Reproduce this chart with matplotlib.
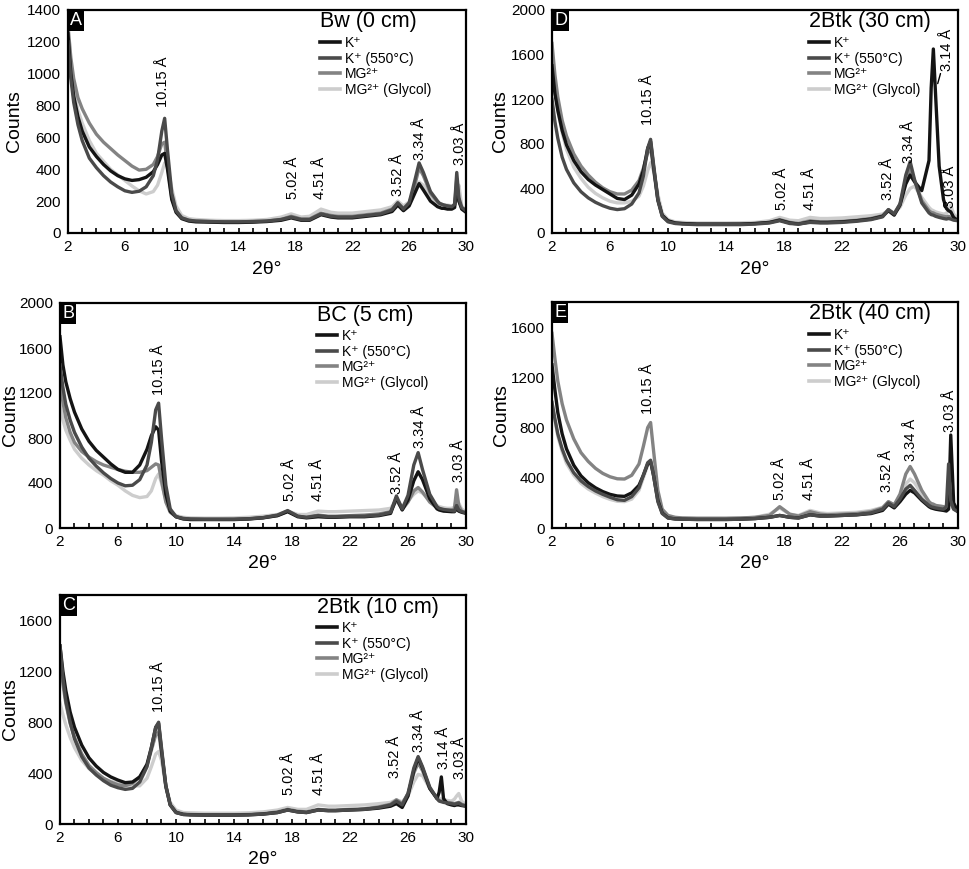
import matplotlib
matplotlib.use('Agg')
import matplotlib.pyplot as plt
from matplotlib.ticker import MultipleLocator
from matplotlib.lines import Line2D

plt.rcParams['font.family'] = ['Liberation Sans', 'DejaVu Sans']

# ---------------- data ----------------
two_theta = [2.0, 2.2, 2.4, 2.7, 3.0, 3.5, 4.0, 4.5, 5.0, 5.5,
             6.0, 6.5, 7.0, 7.5, 8.0, 8.3, 8.6, 8.8, 9.0, 9.3,
             9.6, 10.0, 10.5, 11.0, 12.0, 13.0, 14.0, 15.0, 16.0, 17.0,
             17.7, 18.4, 19.0, 19.8, 20.5, 21.0, 22.0, 23.0, 24.0, 24.8,
             25.2, 25.6, 26.0, 26.4, 26.7, 27.0, 27.5, 28.0, 28.15, 28.3,
             28.45, 28.7, 29.0, 29.2, 29.35, 29.5, 29.7, 30.0]

series_labels = ['K⁺', 'K⁺ (550°C)', 'MG²⁺', 'MG²⁺ (Glycol)']

# Panel A  Bw (0 cm)
A_K = [1250, 1000, 860, 730, 640, 540, 480, 430, 390, 360,
       340, 330, 335, 350, 385, 430, 490, 500, 400, 210,
       130, 90, 75, 70, 68, 66, 66, 68, 72, 80,
       95, 80, 80, 115, 100, 95, 95, 105, 115, 135,
       175, 140, 170, 250, 310, 270, 200, 165, 160, 155,
       155, 150, 150, 160, 300, 200, 150, 130]
A_K550 = [1200, 970, 820, 680, 580, 470, 410, 360, 320, 290,
          265, 255, 262, 290, 360, 460, 640, 720, 520, 250,
          140, 95, 80, 75, 72, 70, 70, 72, 75, 85,
          100, 85, 85, 120, 105, 100, 100, 110, 120, 145,
          190, 150, 190, 330, 440, 380, 260, 200, 185, 180,
          175, 170, 165, 180, 380, 220, 160, 140]
A_MG = [1300, 1100, 970, 850, 780, 690, 620, 570, 530, 490,
        455, 420, 395, 400, 430, 480, 560, 570, 430, 220,
        140, 95, 80, 75, 72, 70, 70, 72, 75, 85,
        105, 88, 88, 125, 110, 105, 105, 115, 125, 150,
        185, 155, 185, 300, 410, 360, 250, 195, 185, 180,
        175, 170, 165, 175, 340, 200, 160, 140]
A_GLY = [1200, 1000, 890, 770, 690, 580, 500, 450, 400, 365,
         330, 295, 265, 245, 260, 300, 380, 440, 420, 280,
         170, 110, 90, 85, 80, 78, 78, 80, 85, 100,
         120, 100, 105, 150, 130, 125, 125, 135, 145, 165,
         200, 170, 195, 260, 320, 300, 230, 190, 185, 180,
         175, 175, 170, 180, 250, 300, 170, 140]

# Panel D  2Btk (30 cm)
D_K = [1500, 1250, 1100, 920, 790, 650, 550, 480, 430, 390,
       350, 310, 300, 340, 440, 560, 760, 820, 600, 300,
       160, 110, 90, 85, 80, 80, 80, 80, 85, 95,
       115, 90, 80, 100, 95, 95, 100, 110, 125, 150,
       200, 160, 250, 440, 520, 460, 380, 650, 1300, 1650,
       1250, 600, 300, 220, 200, 190, 140, 110]
D_K550 = [1200, 1000, 850, 680, 570, 450, 370, 315, 275, 245,
          222, 210, 218, 260, 360, 510, 760, 840, 620, 300,
          150, 100, 85, 80, 75, 75, 75, 75, 80, 90,
          110, 85, 80, 95, 90, 90, 95, 105, 120, 145,
          210, 170, 260, 520, 640, 480, 270, 180, 165, 160,
          150, 140, 130, 125, 130, 125, 115, 110]
D_MG = [1700, 1420, 1220, 1010, 870, 710, 600, 520, 455, 405,
        370, 350, 350, 385, 470, 580, 720, 760, 580, 290,
        150, 105, 90, 85, 80, 80, 80, 80, 85, 95,
        120, 95, 85, 110, 100, 100, 105, 115, 130, 155,
        210, 175, 260, 470, 580, 470, 290, 200, 185, 180,
        170, 160, 150, 145, 150, 140, 125, 115]
D_GLY = [1550, 1300, 1100, 900, 750, 590, 490, 410, 355, 315,
         285, 270, 270, 285, 330, 420, 560, 630, 560, 350,
         180, 120, 100, 95, 90, 90, 90, 92, 95, 110,
         140, 115, 110, 140, 130, 130, 135, 145, 155, 170,
         200, 180, 230, 340, 400, 420, 320, 230, 210, 200,
         190, 180, 170, 175, 210, 250, 170, 130]

# Panel B  BC (5 cm)
B_K = [1700, 1450, 1300, 1150, 1030, 880, 770, 690, 630, 570,
       520, 495, 495, 560, 700, 820, 900, 870, 600, 300,
       150, 100, 80, 75, 75, 75, 75, 80, 90, 110,
       145, 100, 90, 100, 95, 95, 100, 100, 110, 130,
       270, 160, 250, 420, 500, 430, 260, 170, 160, 155,
       150, 148, 145, 145, 170, 150, 140, 130]
B_K550 = [1450, 1250, 1100, 960, 850, 720, 620, 550, 490, 440,
          400, 375, 380, 430, 560, 760, 1050, 1110, 800, 380,
          170, 100, 85, 80, 78, 78, 78, 82, 92, 115,
          155, 105, 95, 110, 100, 100, 105, 105, 115, 140,
          285, 170, 290, 560, 670, 520, 300, 190, 175, 170,
          165, 160, 155, 150, 200, 160, 145, 135]
B_MG = [1300, 1120, 980, 850, 760, 680, 630, 590, 560, 540,
        520, 505, 495, 495, 510, 540, 570, 560, 420, 230,
        140, 100, 85, 80, 78, 78, 78, 82, 92, 110,
        150, 105, 95, 115, 105, 105, 110, 115, 125, 145,
        250, 165, 230, 330, 360, 320, 230, 180, 170, 165,
        160, 160, 160, 170, 340, 200, 150, 135]
B_GLY = [1100, 960, 870, 780, 700, 620, 560, 510, 470, 420,
         380, 330, 290, 270, 280, 330, 440, 480, 400, 250,
         160, 110, 95, 90, 88, 88, 90, 95, 105, 120,
         150, 120, 120, 150, 145, 145, 150, 155, 160, 175,
         250, 190, 240, 300, 330, 310, 250, 200, 190, 185,
         180, 175, 175, 185, 260, 220, 170, 140]

# Panel E  2Btk (40 cm)
E_K = [1300, 1100, 920, 750, 630, 500, 415, 360, 320, 290,
       268, 255, 252, 280, 340, 420, 510, 530, 420, 220,
       120, 80, 72, 70, 68, 68, 68, 70, 75, 85,
       100, 85, 80, 105, 95, 95, 100, 105, 115, 140,
       190, 160, 210, 270, 300, 280, 220, 170, 160, 155,
       150, 145, 140, 135, 150, 740, 200, 130]
E_K550 = [1000, 870, 750, 630, 540, 440, 375, 330, 295, 268,
          245, 225, 220, 250, 320, 420, 520, 540, 420, 210,
          115, 80, 72, 70, 68, 68, 68, 70, 75, 85,
          100, 85, 80, 105, 95, 95, 100, 105, 120, 150,
          200, 170, 230, 310, 340, 300, 230, 180, 170, 165,
          160, 155, 150, 170, 510, 220, 150, 130]
E_MG = [1550, 1350, 1170, 990, 860, 710, 600, 530, 475, 435,
        408, 392, 390, 420, 510, 650, 800, 840, 620, 300,
        150, 100, 85, 80, 78, 78, 78, 80, 85, 100,
        170, 110, 95, 130, 110, 105, 110, 115, 130, 160,
        210, 185, 270, 430, 490, 430, 300, 210, 195, 190,
        180, 175, 170, 165, 180, 200, 150, 130]
E_GLY = [1000, 860, 730, 610, 515, 420, 355, 310, 278, 250,
         228, 213, 210, 230, 300, 400, 500, 520, 440, 240,
         130, 90, 80, 78, 75, 75, 75, 78, 85, 110,
         160, 110, 100, 140, 120, 115, 120, 125, 140, 165,
         210, 180, 250, 350, 390, 360, 270, 200, 190, 185,
         180, 175, 170, 175, 200, 300, 170, 130]

# Panel C  2Btk (10 cm)
C_K = [1400, 1200, 1050, 880, 760, 620, 520, 455, 405, 370,
       345, 325, 330, 370, 470, 600, 760, 790, 580, 300,
       150, 90, 75, 72, 70, 70, 70, 72, 78, 90,
       110, 95, 90, 110, 105, 105, 110, 115, 125, 140,
       160, 130, 220, 420, 520, 440, 280, 200, 250, 370,
       200, 160, 150, 145, 150, 150, 145, 140]
C_K550 = [1400, 1150, 970, 800, 670, 530, 440, 385, 340, 305,
          285, 272, 280, 330, 450, 600, 760, 800, 600, 300,
          150, 90, 75, 72, 70, 70, 70, 72, 78, 90,
          110, 95, 90, 110, 105, 105, 110, 115, 130, 150,
          180, 150, 240, 440, 530, 450, 290, 200, 180, 175,
          170, 165, 160, 155, 160, 165, 150, 140]
C_MG = [1350, 1100, 950, 790, 680, 550, 460, 405, 360, 330,
        308, 300, 320, 370, 460, 580, 700, 720, 560, 290,
        150, 95, 78, 75, 72, 72, 72, 75, 80, 95,
        115, 100, 95, 115, 110, 110, 115, 120, 135, 155,
        190, 160, 240, 400, 480, 420, 280, 200, 185, 180,
        175, 170, 165, 160, 165, 170, 155, 145]
C_GLY = [950, 860, 780, 680, 600, 500, 435, 390, 355, 335,
         322, 310, 300, 300, 360, 450, 550, 570, 500, 300,
         170, 110, 90, 88, 85, 85, 85, 88, 95, 110,
         130, 115, 115, 150, 140, 140, 145, 150, 160, 170,
         190, 175, 220, 330, 390, 380, 280, 210, 200, 195,
         190, 185, 180, 195, 220, 240, 180, 150]

# peak annotations: (label, 2theta, counts at text base)
A_peaks = [('10.15 Å', 8.7, 790), ('5.02 Å', 17.8, 215), ('4.51 Å', 19.75, 215),
           ('3.52 Å', 25.2, 235), ('3.34 Å', 26.75, 460), ('3.03 Å', 29.55, 430)]
D_peaks = [('10.15 Å', 8.65, 970), ('5.02 Å', 17.85, 210), ('4.51 Å', 19.8, 210),
           ('3.52 Å', 25.15, 300), ('3.34 Å', 26.6, 630), ('3.03 Å', 29.45, 225)]
B_peaks = [('10.15 Å', 8.8, 1180), ('5.02 Å', 17.85, 240), ('4.51 Å', 19.8, 240),
           ('3.52 Å', 25.25, 300), ('3.34 Å', 26.8, 710), ('3.03 Å', 29.5, 410)]
E_peaks = [('10.15 Å', 8.65, 910), ('5.02 Å', 17.75, 225), ('4.51 Å', 19.7, 225),
           ('3.52 Å', 25.1, 290), ('3.34 Å', 26.75, 530), ('3.03 Å', 29.45, 765)]
C_peaks = [('10.15 Å', 8.8, 880), ('5.02 Å', 17.8, 230), ('4.51 Å', 19.85, 230),
           ('3.52 Å', 25.1, 365), ('3.34 Å', 26.75, 565), ('3.14 Å', 28.45, 430),
           ('3.03 Å', 29.6, 350)]

colors = ['#141414', '#4a4a4a', '#838383', '#cdcdcd']  # K+, K+550, MG, Glycol
draw_order = [3, 2, 0, 1]

W, H = 970, 869
fig = plt.figure(figsize=(W / 100, H / 100), dpi=100)


def px_rect(l, t, r, b):
    return [l / W, 1 - b / H, (r - l) / W, (b - t) / H]


panels = [
    dict(letter='A', title='Bw (0 cm)', box=(68, 10, 466, 233), ymax=1400, ystep=200,
         ylab_x=14, data=[A_K, A_K550, A_MG, A_GLY], peaks=A_peaks),
    dict(letter='D', title='2Btk (30 cm)', box=(552, 10, 958, 233), ymax=2000, ystep=400,
         ylab_x=501, data=[D_K, D_K550, D_MG, D_GLY], peaks=D_peaks),
    dict(letter='B', title='BC (5 cm)', box=(60, 303, 466, 528), ymax=2000, ystep=400,
         ylab_x=11, data=[B_K, B_K550, B_MG, B_GLY], peaks=B_peaks),
    dict(letter='E', title='2Btk (40 cm)', box=(552, 302, 958, 528), ymax=1800, ystep=400,
         ylab_x=502, data=[E_K, E_K550, E_MG, E_GLY], peaks=E_peaks),
    dict(letter='C', title='2Btk (10 cm)', box=(60, 595, 466, 824), ymax=1800, ystep=400,
         ylab_x=11, data=[C_K, C_K550, C_MG, C_GLY], peaks=C_peaks),
]

for p in panels:
    l, t, r, b = p['box']
    wpx, hpx = r - l, b - t
    ax = fig.add_axes(px_rect(l, t, r, b))
    for i in draw_order:
        ax.plot(two_theta, p['data'][i], color=colors[i], lw=2.4,
                solid_joinstyle='round')
    ax.set_xlim(2, 30)
    ax.set_ylim(0, p['ymax'])
    ax.set_xticks([2, 6, 10, 14, 18, 22, 26, 30])
    ax.xaxis.set_minor_locator(MultipleLocator(1))
    ax.set_yticks(list(range(0, p['ymax'] + 1, p['ystep'])))
    ax.tick_params(axis='x', which='both', direction='in', length=3.5, width=1.2,
                   labelsize=11, pad=5)
    ax.tick_params(axis='y', which='both', length=0, labelsize=11, pad=5)
    for s in ax.spines.values():
        s.set_linewidth(1.6)
    ax.set_xlabel('2θ°', fontsize=14, va='center')
    ax.xaxis.set_label_coords(0.5, -36 / hpx)
    ax.set_ylabel('Counts', fontsize=14, va='center')
    ax.yaxis.set_label_coords((p['ylab_x'] - l) / wpx, 0.5)
    ax.text(0.005, 0.993, p['letter'], transform=ax.transAxes, ha='left', va='top',
            color='white', fontsize=13,
            bbox=dict(boxstyle='square,pad=0.12', fc='black', ec='none'))
    ax.text(0.633, 1 - 12 / hpx, p['title'], transform=ax.transAxes, ha='left',
            va='center', fontsize=15.5)
    handles = [Line2D([], [], color=colors[i], lw=2.6) for i in range(4)]
    ax.legend(handles, series_labels, loc='upper left',
              bbox_to_anchor=(0.633, 1 - 26 / hpx),
              frameon=False, fontsize=10, handlelength=1.45, handletextpad=0.35,
              labelspacing=0.12, borderpad=0, borderaxespad=0)
    for lab, xx, yy in p['peaks']:
        ax.text(xx, yy, lab, rotation=90, ha='center', va='bottom', fontsize=10.5)
    if p['letter'] == 'D':
        ax.annotate('3.14 Å', xy=(28.6, 1340), xytext=(29.25, 1455), rotation=90,
                    ha='center', va='bottom', fontsize=10.5,
                    arrowprops=dict(arrowstyle='-', color='black', lw=1.0,
                                    shrinkA=0, shrinkB=0))

fig.savefig('out.png', dpi=100)
